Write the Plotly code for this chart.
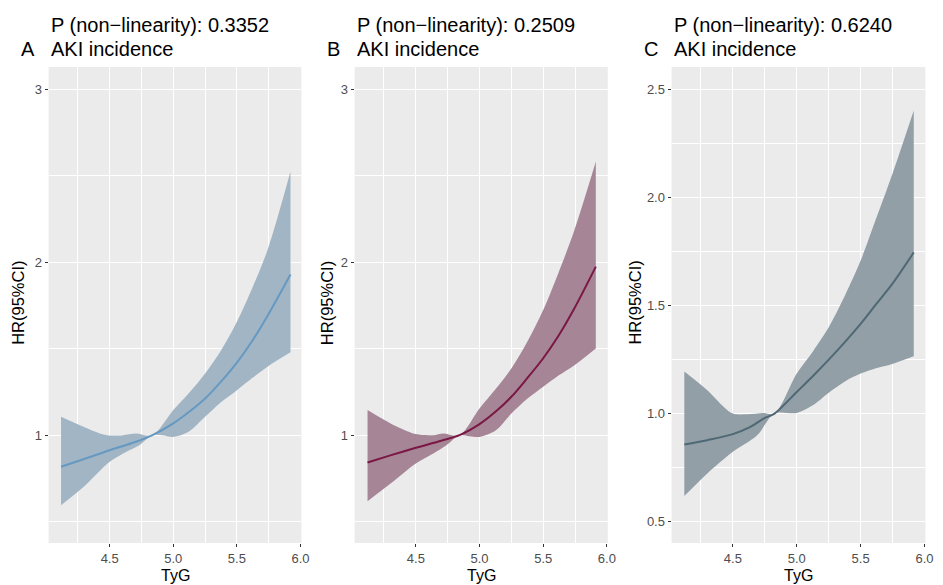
import plotly.graph_objects as go

# ---------------- data ----------------
# Panel A
a_x_line = [4.118, 4.30, 4.50, 4.70, 4.836, 5.00, 5.125, 5.25, 5.375, 5.50, 5.62, 5.74, 5.921]
a_hr     = [0.817, 0.862, 0.913, 0.960, 1.000, 1.068, 1.135, 1.212, 1.310, 1.420, 1.545, 1.690, 1.930]
a_x_up   = [4.118, 4.294, 4.423, 4.50, 4.603, 4.706, 4.836, 5.00, 5.125, 5.25, 5.375, 5.50, 5.62, 5.74, 5.921]
a_up     = [1.106, 1.048, 1.010, 0.998, 1.000, 1.010, 1.000, 1.145, 1.245, 1.357, 1.490, 1.656, 1.850, 2.070, 2.525]
a_x_lo   = [4.118, 4.294, 4.50, 4.629, 4.732, 4.836, 4.913, 5.00, 5.121, 5.25, 5.375, 5.50, 5.62, 5.74, 5.921]
a_lo     = [0.595, 0.700, 0.846, 0.903, 0.942, 1.000, 1.000, 0.990, 1.020, 1.106, 1.190, 1.260, 1.330, 1.396, 1.479]

# Panel B
b_x_line = [4.121, 4.30, 4.50, 4.70, 4.843, 5.00, 5.125, 5.25, 5.375, 5.50, 5.62, 5.745, 5.913]
b_hr     = [0.842, 0.883, 0.927, 0.968, 1.000, 1.064, 1.135, 1.222, 1.330, 1.445, 1.575, 1.734, 1.975]
b_x_up   = [4.121, 4.302, 4.50, 4.637, 4.714, 4.843, 5.00, 5.125, 5.25, 5.375, 5.50, 5.62, 5.745, 5.913]
b_up     = [1.145, 1.068, 1.006, 1.000, 1.010, 1.000, 1.154, 1.265, 1.386, 1.540, 1.724, 1.940, 2.187, 2.583]
b_x_lo   = [4.121, 4.302, 4.50, 4.637, 4.740, 4.843, 4.920, 5.00, 5.129, 5.25, 5.375, 5.50, 5.62, 5.745, 5.913]
b_lo     = [0.618, 0.720, 0.836, 0.894, 0.942, 1.000, 0.994, 0.990, 1.029, 1.125, 1.210, 1.280, 1.345, 1.405, 1.502]

# Panel C
c_x_line = [4.120, 4.300, 4.50, 4.637, 4.740, 4.826, 5.00, 5.129, 5.258, 5.38, 5.50, 5.62, 5.748, 5.916]
c_hr     = [0.857, 0.877, 0.905, 0.938, 0.977, 1.000, 1.100, 1.175, 1.254, 1.333, 1.415, 1.505, 1.600, 1.746]
c_x_up   = [4.120, 4.300, 4.429, 4.50, 4.612, 4.741, 4.826, 5.00, 5.129, 5.258, 5.38, 5.50, 5.62, 5.748, 5.916]
c_up     = [1.195, 1.108, 1.031, 1.000, 0.997, 1.003, 1.000, 1.185, 1.290, 1.408, 1.550, 1.708, 1.900, 2.108, 2.403]
c_x_lo   = [4.120, 4.300, 4.50, 4.690, 4.826, 5.00, 5.129, 5.258, 5.38, 5.50, 5.62, 5.748, 5.916]
c_lo     = [0.618, 0.723, 0.823, 0.900, 1.000, 1.003, 1.040, 1.100, 1.150, 1.185, 1.210, 1.230, 1.265]

titles = ["P (non\u2212linearity): 0.3352", "P (non\u2212linearity): 0.2509", "P (non\u2212linearity): 0.6240"]
subtitle = "AKI incidence"
letters = ["A", "B", "C"]
x_ticks = [4.5, 5.0, 5.5, 6.0]
x_ticklabels = ["4.5", "5.0", "5.5", "6.0"]
y_ticks_ab = [1, 2, 3]
y_ticks_c = [0.5, 1.0, 1.5, 2.0, 2.5]
y_ticklabels_c = ["0.5", "1.0", "1.5", "2.0", "2.5"]

line_colors = ["#6699C2", "#7A1745", "#4F6875"]
fill_colors = ["#A2B5C4", "#A68696", "#939FA6"]

panels = [
    (a_x_line, a_hr, a_x_up, a_up, a_x_lo, a_lo),
    (b_x_line, b_hr, b_x_up, b_up, b_x_lo, b_lo),
    (c_x_line, c_hr, c_x_up, c_up, c_x_lo, c_lo),
]

# ---------------- layout geometry ----------------
W, H = 943, 585
x_doms = [(49, 304), (357.7, 613), (677.3, 933.3)]
y_top, y_bot = 67, 543
y_dom = [(H - y_bot) / H, (H - y_top) / H]
y_ranges = [[0.376, 3.13], [0.376, 3.13], [0.401, 2.604]]

fig = go.Figure()

FONT = "Liberation Sans, Arial, sans-serif"

for i, (xl, yl, xu, yu, xlo, ylo) in enumerate(panels):
    xa = "x" if i == 0 else f"x{i+1}"
    ya = "y" if i == 0 else f"y{i+1}"
    fig.add_trace(go.Scatter(
        x=xu, y=yu, mode="lines",
        line=dict(width=0, color=fill_colors[i], shape="spline", smoothing=0.9),
        hoverinfo="skip", showlegend=False, xaxis=xa, yaxis=ya))
    fig.add_trace(go.Scatter(
        x=xlo, y=ylo, mode="lines", fill="tonexty", fillcolor=fill_colors[i],
        line=dict(width=0, color=fill_colors[i], shape="spline", smoothing=0.9),
        hoverinfo="skip", showlegend=False, xaxis=xa, yaxis=ya))
    fig.add_trace(go.Scatter(
        x=xl, y=yl, mode="lines",
        line=dict(color=line_colors[i], width=2, shape="spline", smoothing=0.9),
        showlegend=False, xaxis=xa, yaxis=ya))

layout = dict(
    width=W, height=H,
    margin=dict(l=0, r=0, t=0, b=0),
    paper_bgcolor="white",
    plot_bgcolor="#EBEBEB",
    font=dict(family=FONT, color="#4D4D4D", size=13),
    annotations=[],
)

for i in range(3):
    sfx = "" if i == 0 else str(i + 1)
    d0, d1 = x_doms[i]
    layout["xaxis" + sfx] = dict(
        domain=[d0 / W, d1 / W], range=[4.02, 6.007], anchor="y" + sfx,
        tickvals=x_ticks, ticktext=x_ticklabels,
        ticks="outside", ticklen=3, tickwidth=1, tickcolor="#333333",
        showgrid=True, gridcolor="white", gridwidth=1.2,
        minor=dict(tickvals=[4.25, 4.75, 5.25, 5.75], showgrid=True,
                   gridcolor="white", gridwidth=0.5, ticks=""),
        zeroline=False, showline=False,
        tickfont=dict(size=13, color="#4D4D4D", family=FONT),
        fixedrange=True,
    )
    if i < 2:
        yt, ytt = y_ticks_ab, [str(v) for v in y_ticks_ab]
        minor_vals = [0.5, 1.5, 2.5]
    else:
        yt, ytt = y_ticks_c, y_ticklabels_c
        minor_vals = [0.75, 1.25, 1.75, 2.25]
    layout["yaxis" + sfx] = dict(
        domain=y_dom, range=y_ranges[i], anchor="x" + sfx,
        tickvals=yt, ticktext=ytt,
        ticks="outside", ticklen=3, tickwidth=1, tickcolor="#333333",
        showgrid=True, gridcolor="white", gridwidth=1.2,
        minor=dict(tickvals=minor_vals, showgrid=True,
                   gridcolor="white", gridwidth=0.5, ticks=""),
        zeroline=False, showline=False,
        tickfont=dict(size=13, color="#4D4D4D", family=FONT),
        fixedrange=True,
    )
    layout["annotations"].append(dict(
        text=titles[i], xref="paper", yref="paper", x=d0 / W, y=(H - 25.5) / H,
        xanchor="left", yanchor="middle", showarrow=False,
        font=dict(size=20, color="black", family=FONT)))
    layout["annotations"].append(dict(
        text=subtitle, xref="paper", yref="paper", x=d0 / W, y=(H - 49) / H,
        xanchor="left", yanchor="middle", showarrow=False,
        font=dict(size=20, color="black", family=FONT)))
    layout["annotations"].append(dict(
        text=letters[i], xref="paper", yref="paper", x=(d0 - 30) / W, y=(H - 49) / H,
        xanchor="left", yanchor="middle", showarrow=False,
        font=dict(size=20, color="black", family=FONT)))
    layout["annotations"].append(dict(
        text="TyG", xref="paper", yref="paper", x=((d0 + d1) / 2) / W, y=(H - 575) / H,
        xanchor="center", yanchor="middle", showarrow=False,
        font=dict(size=16, color="black", family=FONT)))
    ytitle_x = [18, 330, 640][i]
    layout["annotations"].append(dict(
        text="HR(95%CI)", xref="paper", yref="paper", x=ytitle_x / W, y=(H - 303) / H,
        xanchor="center", yanchor="middle", showarrow=False, textangle=-90,
        font=dict(size=16.5, color="black", family=FONT)))

fig.update_layout(**layout)
fig.write_html("out.html")
